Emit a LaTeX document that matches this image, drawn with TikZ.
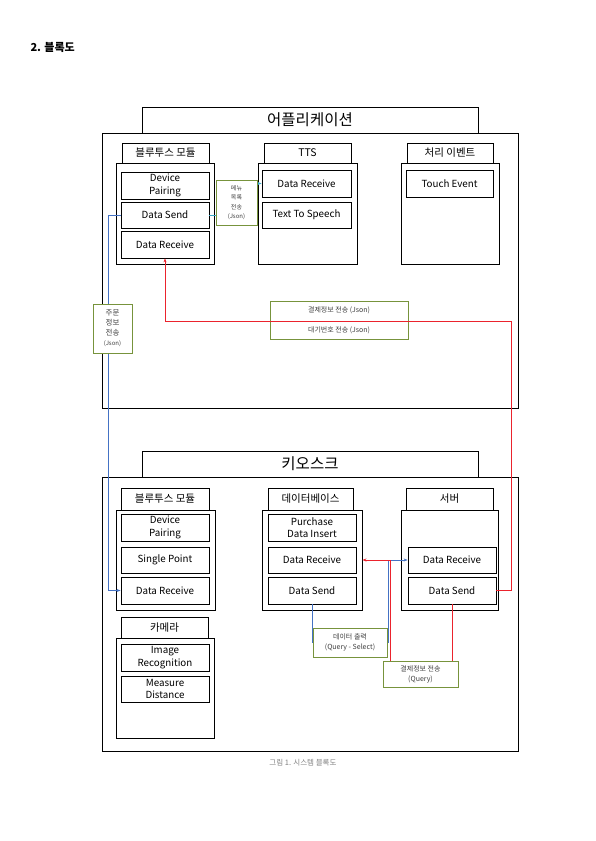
\documentclass[tikz,border=0pt]{standalone}
\usepackage{fontspec}
\setmainfont{Noto Sans CJK KR}
\usetikzlibrary{arrows.meta}

\definecolor{linkblue}{RGB}{68,114,196}
\definecolor{linkred}{RGB}{235,35,45}
\definecolor{linkteal}{RGB}{60,170,200}
\definecolor{lblgreen}{RGB}{119,147,60}

\begin{document}
\begin{tikzpicture}[x=1pt,y=-1pt,
    frame/.style={draw, line width=0.9pt, inner sep=0pt},
    head/.style={draw, line width=0.8pt, inner sep=0pt, font=\fontsize{10.5}{12}\selectfont},
    item/.style={draw, line width=0.8pt, inner sep=0pt, align=center, font=\fontsize{9.8}{12.5}\selectfont},
    lbl/.style={draw=lblgreen, line width=0.7pt, fill=white, inner sep=0pt, align=center,
      text=darkgray, font=\fontsize{6.5}{9}\selectfont},
    link/.style={line width=0.9pt, -{Stealth[length=4pt,width=3pt]}}]
  \useasboundingbox (0,0) rectangle (595,841);

  \node[anchor=west, font=\bfseries\fontsize{11}{13}\selectfont] (title) at (27,47) {2. 블록도};

  % application
  \node[frame, minimum width=336, minimum height=26, font=\fontsize{15.5}{17}\selectfont] (appTitle) at (310,120) {어플리케이션};
  \node[frame, minimum width=416, minimum height=275] (app) at (310,270.5) {};

  \node[head, minimum width=87, minimum height=20] (btHeadA) at (165.5,153) {블루투스 모듈};
  \node[frame, minimum width=98, minimum height=101] (btBodyA) at (165,213.5) {};
  \node[item, minimum width=88, minimum height=27] (pairA) at (165,185.5) {Device\\Pairing};
  \node[item, minimum width=88, minimum height=26] (sendA) at (165,215) {Data Send};
  \node[item, minimum width=88, minimum height=27] (recvA) at (165,244.5) {Data Receive};

  \node[head, minimum width=87, minimum height=20] (ttsHead) at (307.5,153) {TTS};
  \node[frame, minimum width=99, minimum height=101] (ttsBody) at (307.5,213.5) {};
  \node[item, minimum width=89, minimum height=27] (ttsRecv) at (306.5,183.5) {Data Receive};
  \node[item, minimum width=89, minimum height=26] (ttsSpeech) at (306.5,215) {Text To Speech};

  \node[head, minimum width=86, minimum height=20] (evHead) at (450,153) {처리 이벤트};
  \node[frame, minimum width=98, minimum height=101] (evBody) at (450,213.5) {};
  \node[item, minimum width=87, minimum height=27] (touch) at (449.5,183.5) {Touch Event};

  % kiosk
  \node[frame, minimum width=336, minimum height=26, font=\fontsize{15.5}{17}\selectfont] (kioskTitle) at (310,464) {키오스크};
  \node[frame, minimum width=416, minimum height=274] (kiosk) at (310,614) {};

  \node[head, minimum width=88, minimum height=22] (btHeadK) at (165,499) {블루투스 모듈};
  \node[frame, minimum width=99, minimum height=100] (btBodyK) at (165.5,560) {};
  \node[item, minimum width=88, minimum height=27] (pairK) at (165,527.5) {Device\\Pairing};
  \node[item, minimum width=88, minimum height=26] (pointK) at (165,560) {Single Point};
  \node[item, minimum width=88, minimum height=27] (recvK) at (165,590.5) {Data Receive};

  \node[head, minimum width=87, minimum height=21] (camHead) at (164.5,627.5) {카메라};
  \node[frame, minimum width=98, minimum height=100] (camBody) at (165,688) {};
  \node[item, minimum width=88, minimum height=27] (imgK) at (165,657.5) {Image\\Recognition};
  \node[item, minimum width=88, minimum height=26] (distK) at (165,689) {Measure\\Distance};

  \node[head, minimum width=85, minimum height=22] (dbHead) at (310.5,499) {데이터베이스};
  \node[frame, minimum width=100, minimum height=100] (dbBody) at (312,560) {};
  \node[item, minimum width=88, minimum height=27] (insertDb) at (312,527.5) {Purchase\\Data Insert};
  \node[item, minimum width=88, minimum height=26] (recvDb) at (312,560) {Data Receive};
  \node[item, minimum width=88, minimum height=27] (sendDb) at (312,590.5) {Data Send};

  \node[head, minimum width=87, minimum height=22] (srvHead) at (449.5,499) {서버};
  \node[frame, minimum width=97, minimum height=100] (srvBody) at (449.5,560) {};
  \node[item, minimum width=88, minimum height=26] (recvSrv) at (452,560) {Data Receive};
  \node[item, minimum width=88, minimum height=27] (sendSrv) at (452,590.5) {Data Send};

  % connectors
  \coordinate (redTurn) at (511,321);
  \draw[link, linkteal] (sendA.east) -| (236.5,202.5) |- (ttsRecv.west);
  \draw[link, linkblue] (sendA.west) -- ++(-12,0) |- (recvK.west);
  \draw[link, linkblue] (sendDb.south) |- (313,642.5) -- (388,642.5) |- (recvSrv.west);
  \node[draw=lblgreen, line width=0.7pt, inner sep=0pt, align=center, text=darkgray,
    minimum width=138, minimum height=38, font=\fontsize{7}{9}\selectfont] (payLbl) at (339,320)
    {결제정보 전송 (Json)\\[11pt]대기번호 전송 (Json)};
  \draw[link, linkred] (sendSrv.east) -| (redTurn) -| (recvA.south);
  \draw[link, linkred] (sendSrv.south) |- (420.5,674) -- (390,674) |- (dbBody.east |- recvDb.west);

  % labels
  \node[lbl, minimum width=41, minimum height=45, font=\fontsize{6}{9.5}\selectfont] (menuLbl) at (236.5,202.5)
    {메뉴\\목록\\전송\\(Json)};
  \node[lbl, minimum width=39, minimum height=49, font=\fontsize{7.5}{10}\selectfont] (orderLbl) at (112.5,328.5)
    {주문\\정보\\전송\\{\fontsize{6}{8}\selectfont(Json)}};
  \node[lbl, minimum width=74, minimum height=29, font=\fontsize{7}{10}\selectfont] (outLbl) at (350,642.5)
    {데이터 출력\\(Query - Select)};
  \node[lbl, minimum width=75, minimum height=26, font=\fontsize{7}{10}\selectfont] (queryLbl) at (420.5,674)
    {결제정보 전송\\(Query)};

  \node[text=gray, font=\fontsize{7.5}{9}\selectfont] (caption) at (303,763) {그림 1. 시스템 블록도};
\end{tikzpicture}
\end{document}
